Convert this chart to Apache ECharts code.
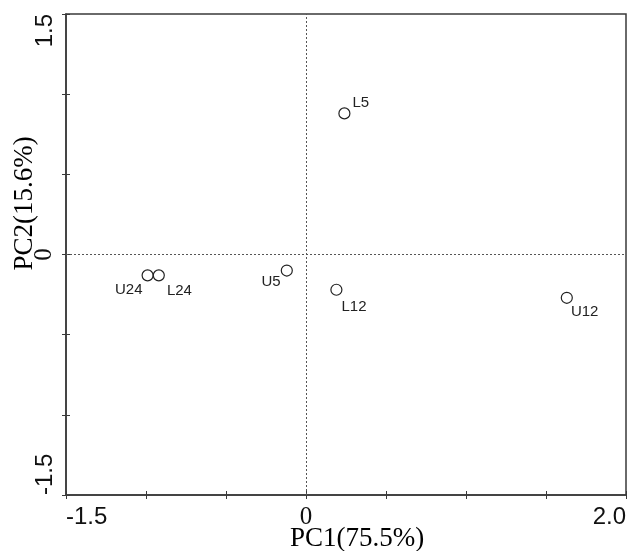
<!DOCTYPE html>
<html>
<head>
<meta charset="utf-8">
<script src="https://cdn.jsdelivr.net/npm/echarts@6/dist/echarts.min.js"></script>
<style>
  html, body { margin: 0; padding: 0; background: #fff; }
  #chart { width: 628px; height: 551px; }
</style>
</head>
<body>
<div id="chart"></div>
<script>
// sample scores
const samples = ['L5', 'U5', 'U24', 'L24', 'L12', 'U12']
const pc1 = [0.24, -0.12, -0.99, -0.92, 0.19, 1.63]
const pc2 = [0.88, -0.10, -0.13, -0.13, -0.22, -0.27]

const xLabels = ['-1.5', '0', '2.0']
const yLabels = ['-1.5', '0', '1.5']

// where each sample's label sits relative to its marker
const labelPlace = {
  L5: { position: 'right', offset: [-3, -11] },
  U5: { position: 'left', offset: [5, 11] },
  U24: { position: 'left', offset: [6, 15] },
  L24: { position: 'right', offset: [-3, 16] },
  L12: { position: 'right', offset: [-6, 17] },
  U12: { position: 'right', offset: [-7, 14] }
}

const axisColor = '#3a3a3a'

const fmt = v => {
  const s = v === 0 ? '0' : v.toFixed(1)
  if (s === '0') return '{z|0}'
  return '{n|' + s + '}'
}

const richLabels = {
  n: { fontFamily: 'Liberation Sans, Arial', fontSize: 24, color: '#111' },
  z: { fontFamily: 'Liberation Serif, Times New Roman', fontSize: 25, color: '#111' }
}

const titleStyle = {
  fontFamily: 'Liberation Serif, Times New Roman',
  fontSize: 27,
  color: '#000'
}

const chart = echarts.init(document.getElementById('chart'))

const option = {
  animation: false,
  grid: {
    left: 66,
    right: 2,
    top: 14,
    bottom: 56,
    outerBoundsMode: 'none',
    containLabel: false,
    show: true,
    borderColor: axisColor,
    borderWidth: 1.5
  },
  xAxis: [
    {
      type: 'value',
      min: -1.5,
      max: 2.0,
      interval: 0.5,
      splitLine: { show: false },
      axisLine: { show: true, onZero: false, lineStyle: { color: axisColor, width: 1.5 } },
      axisTick: { show: true, inside: false, length: 4, lineStyle: { color: axisColor } },
      axisLabel: {
        margin: 10,
        alignMinLabel: 'left',
        alignMaxLabel: 'right',
        formatter: v => (xLabels.includes(v === 0 ? '0' : v.toFixed(1)) ? fmt(v) : ''),
        rich: richLabels
      },
      name: 'PC1(75.5%)',
      nameLocation: 'middle',
      nameGap: 30,
      nameMoveOverlap: false,
      nameTextStyle: Object.assign({}, titleStyle, { padding: [0, 0, 0, 22] })
    },
    {
      type: 'value',
      min: -1.5,
      max: 2.0,
      interval: 0.5,
      position: 'bottom',
      splitLine: { show: false },
      axisLine: { show: false, onZero: false },
      axisTick: { show: true, inside: true, length: 4, lineStyle: { color: axisColor } },
      axisLabel: { show: false }
    }
  ],
  yAxis: [
    {
      type: 'value',
      min: -1.5,
      max: 1.5,
      interval: 0.5,
      splitLine: { show: false },
      axisLine: { show: true, onZero: false, lineStyle: { color: axisColor, width: 1.5 } },
      axisTick: { show: true, inside: false, length: 4, lineStyle: { color: axisColor } },
      axisLabel: {
        rotate: 90,
        margin: 9,
        align: 'center',
        verticalAlign: 'bottom',
        alignMinLabel: 'left',
        alignMaxLabel: 'right',
        formatter: v => (yLabels.includes(v === 0 ? '0' : v.toFixed(1)) ? fmt(v) : ''),
        rich: richLabels
      },
      name: 'PC2(15.6%)',
      nameLocation: 'middle',
      nameRotate: 90,
      nameGap: 28,
      nameMoveOverlap: false,
      nameTextStyle: Object.assign({}, titleStyle, { padding: [0, 0, 0, 102] })
    },
    {
      type: 'value',
      min: -1.5,
      max: 1.5,
      interval: 0.5,
      position: 'left',
      splitLine: { show: false },
      axisLine: { show: false, onZero: false },
      axisTick: { show: true, inside: true, length: 4, lineStyle: { color: axisColor } },
      axisLabel: { show: false }
    }
  ],
  series: [
    {
      type: 'scatter',
      symbol: 'circle',
      symbolSize: 11,
      itemStyle: { color: '#fff', borderColor: '#222', borderWidth: 1.2, opacity: 1 },
      data: samples.map((s, i) => ({
        name: s,
        value: [pc1[i], pc2[i]],
        label: {
          show: true,
          formatter: s,
          position: labelPlace[s].position,
          offset: labelPlace[s].offset,
          fontFamily: 'Liberation Sans, Arial',
          fontSize: 15,
          color: '#222'
        }
      })),
      markLine: {
        silent: true,
        symbol: 'none',
        label: { show: false },
        lineStyle: { color: '#555', type: [2, 2], width: 1 },
        data: [{ xAxis: 0 }, { yAxis: 0 }]
      }
    }
  ]
}

chart.setOption(option)
</script>
</body>
</html>
